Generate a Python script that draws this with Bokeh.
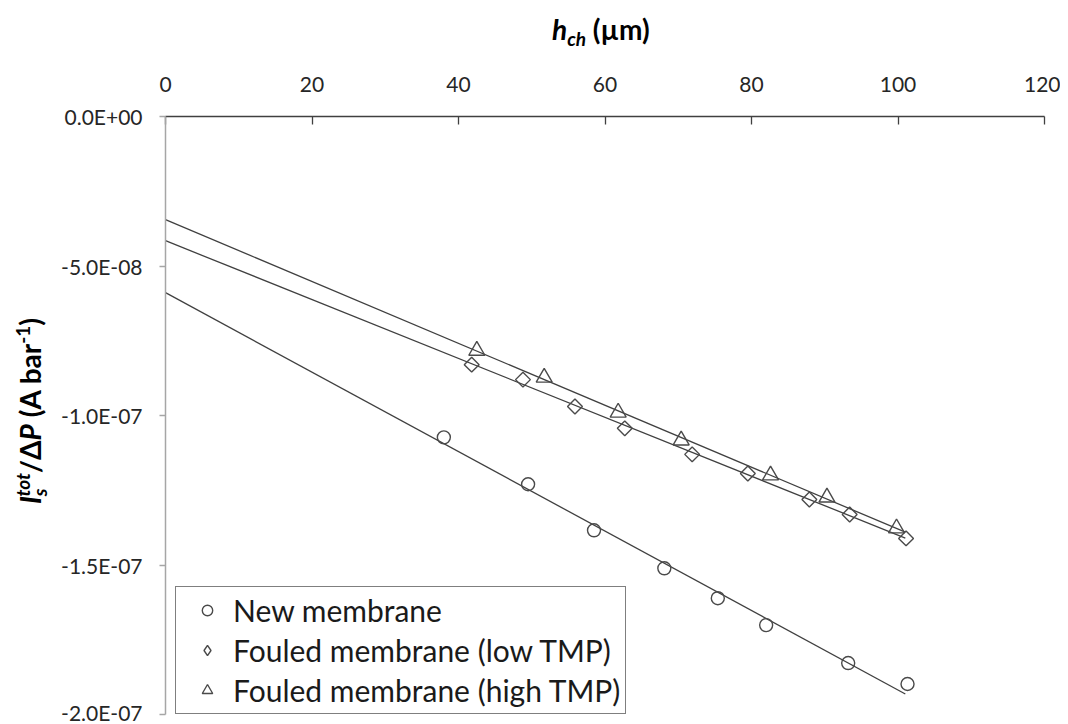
import numpy as np
from bokeh.plotting import figure
from bokeh.models import (Range1d, FixedTicker, CustomJSTickFormatter, Legend,
                          LegendItem, Div)
from bokeh.layouts import column, row
from bokeh.embed import file_html
from bokeh.resources import INLINE

# ---------------- data ----------------
x_ticks = [0, 20, 40, 60, 80, 100, 120]
y_ticks = [0.0, -5.0e-8, -1.0e-7, -1.5e-7, -2.0e-7]
y_tick_labels = ["0.0E+00", "-5.0E-08", "-1.0E-07", "-1.5E-07", "-2.0E-07"]

series_labels = ["New membrane", "Fouled membrane (low TMP)", "Fouled membrane (high TMP)"]

new_x = [38.0, 49.5, 58.5, 68.1, 75.4, 82.0, 93.2, 101.3]
new_y = [-1.073e-7, -1.230e-7, -1.384e-7, -1.511e-7, -1.611e-7, -1.701e-7, -1.828e-7, -1.898e-7]

low_x = [41.8, 48.8, 55.9, 62.7, 71.9, 79.5, 87.9, 93.4, 101.1]
low_y = [-8.30e-8, -8.80e-8, -9.70e-8, -1.043e-7, -1.130e-7, -1.194e-7, -1.281e-7, -1.331e-7, -1.411e-7]

high_x = [42.5, 51.7, 61.8, 70.4, 82.6, 90.3, 99.8]
high_y = [-7.83e-8, -8.73e-8, -9.90e-8, -1.083e-7, -1.200e-7, -1.274e-7, -1.377e-7]

trend_x_range = [0, 101]

# ---------------- figure ----------------
FONT = "Lato"
p = figure(width=1010, height=668, output_backend="svg", toolbar_location=None,
           x_range=Range1d(0, 120), y_range=Range1d(-2.0e-7, 0.0),
           x_axis_location="above",
           min_border_left=115, min_border_right=16, min_border_top=60, min_border_bottom=10)
p.grid.visible = False
p.outline_line_color = None
p.background_fill_color = "white"
p.border_fill_color = "white"

xa = p.xaxis[0]
xa.ticker = FixedTicker(ticks=x_ticks)
xa.major_tick_in = 8
xa.major_tick_out = 0
xa.minor_tick_line_color = None
xa.axis_line_color = "#404040"
xa.axis_line_width = 1.3
xa.major_tick_line_color = "#404040"
xa.major_tick_line_width = 1.3
xa.major_label_text_font = FONT
xa.major_label_text_font_size = "21px"
xa.major_label_text_color = "#262626"
xa.major_label_standoff = 25

ya = p.yaxis[0]
ya.ticker = FixedTicker(ticks=y_ticks)
ya.formatter = CustomJSTickFormatter(args=dict(tvals=y_ticks, tlabels=y_tick_labels), code="""
let best = 0;
for (let i = 0; i < tvals.length; i++) {
  if (Math.abs(tvals[i] - tick) < Math.abs(tvals[best] - tick)) best = i;
}
return tlabels[best];
""")
ya.major_tick_in = 0
ya.major_tick_out = 6
ya.minor_tick_line_color = None
ya.axis_line_color = "#a6a6a6"
ya.axis_line_width = 1.5
ya.major_tick_line_color = "#a6a6a6"
ya.major_tick_line_width = 1.5
ya.major_label_text_font = FONT
ya.major_label_text_font_size = "21px"
ya.major_label_text_color = "#262626"
ya.major_label_standoff = 17

# trend lines (least squares fits of each series)
tx = np.array(trend_x_range, dtype=float)
for xs, ys in [(new_x, new_y), (low_x, low_y), (high_x, high_y)]:
    k, b = np.polyfit(xs, ys, 1)
    p.line(tx, k * tx + b, line_color="#404040", line_width=1.3)

mk = dict(fill_alpha=0, line_color="#4a4a4a", line_width=1.4)
r_new = p.scatter(new_x, new_y, marker="circle", size=13, **mk)
r_low = p.scatter(low_x, low_y, marker="square", angle=np.pi / 4, size=10.5, **mk)
r_high = p.scatter(high_x, high_y, marker="triangle", size=16, **mk)
# legend swatch for the diamonds (a rotated square is not rotated in legends)
r_low_key = p.scatter([np.nan], [np.nan], marker="diamond", size=12, **mk)

legend = Legend(items=[LegendItem(label=series_labels[0], renderers=[r_new]),
                       LegendItem(label=series_labels[1], renderers=[r_low_key]),
                       LegendItem(label=series_labels[2], renderers=[r_high])],
                location=(10, 0), orientation="vertical", margin=0,
                padding=5, spacing=4, glyph_width=52, glyph_height=26,
                label_standoff=0, label_text_font=FONT, label_text_font_size="30px",
                label_text_color="#1a1a1a",
                border_line_color="black", border_line_width=1.2,
                background_fill_color="white", background_fill_alpha=1)
p.add_layout(legend)

# ---------------- axis titles (rich text) ----------------
small = "font-size:19px;line-height:0;"
title_html = (
    '<div style="position:absolute;left:552px;top:15px;font-family:Lato;font-weight:bold;'
    'font-size:28px;line-height:1;white-space:nowrap;color:#000;">'
    '<i>h</i><span style="' + small + 'vertical-align:-6px;"><i>ch</i></span> (\u00b5m)</div>'
)
ylab_html = (
    '<div style="position:absolute;left:30px;top:355px;transform:translate(-50%,-50%) rotate(-90deg);'
    'font-family:Lato;font-weight:bold;font-size:28px;line-height:1;white-space:nowrap;color:#000;">'
    '<i>I</i>'
    '<span style="' + small + 'vertical-align:-6px;"><i>s</i></span>'
    '<span style="' + small + 'vertical-align:11px;margin-left:-8px;"><i>tot</i></span>'
    '/\u0394<i>P</i> (A bar'
    '<span style="' + small + 'vertical-align:11px;">-1</span>)</div>'
)
title_div = Div(text=title_html, width=1060, height=56, margin=0)
ylab_div = Div(text=ylab_html, width=50, height=668, margin=0)

layout = column(title_div, row(ylab_div, p, spacing=0), spacing=0)
open("out.html", "w").write(file_html(layout, INLINE))
